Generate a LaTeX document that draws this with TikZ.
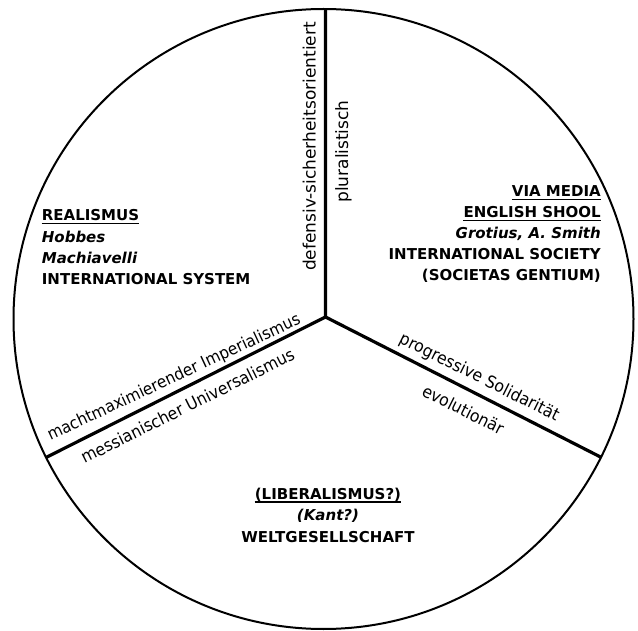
\documentclass[tikz,border=0pt]{standalone}
\usepackage{fontspec}
\setmainfont{DejaVu Sans}[BoldFont={DejaVu Sans Bold}, ItalicFont={DejaVu Sans Oblique}, BoldItalicFont={DejaVu Sans Bold Oblique}]
\newfontfamily\labnarrow{DejaVu Sans}[FakeStretch=0.92]
\begin{document}
\begin{tikzpicture}[x=1pt,y=-1pt,
  hd/.style={font=\fontsize{15}{18}\selectfont\bfseries, inner sep=0pt},
  hdi/.style={font=\fontsize{15}{18}\selectfont\bfseries\itshape, inner sep=0pt},
  rlab/.style={inner sep=0pt, anchor=base},
  vlab/.style={rlab, rotate=90, font=\fontsize{17}{20}\selectfont},
  dlab/.style={rlab, font=\labnarrow\fontsize{17}{20}\selectfont},
  spoke/.style={line width=3.2pt, line join=miter},
  rim/.style={line width=2pt},
  uline/.style={line width=1.4pt}]
\fill[white] (0,0) rectangle (638,631);
\useasboundingbox (0,0) rectangle (638,631);
% disk
\draw[rim] (323.5,319) circle[radius=310pt];
% spokes
\coordinate (ctr) at (325.5,317);
\coordinate (topend) at (325.5,9.5);
\coordinate (rend) at (601.5,457.5);
\coordinate (lend) at (46,457.5);
\draw[spoke] (topend) -- (ctr) -- (rend);
\draw[spoke] (ctr) -- (lend);
% left block
\node[hd, anchor=base west] (real) at (41.7,220.7) {REALISMUS};
\node[hdi, anchor=base west] (hob) at (41.7,242.3) {Hobbes};
\node[hdi, anchor=base west] (mach) at (41.7,263.3) {Machiavelli};
\node[hd, anchor=base west] (isys) at (41.7,284.3) {INTERNATIONAL SYSTEM};
\draw[uline] ([yshift=-3pt]real.base west) -- ([yshift=-3pt]real.base east);
% right block
\node[hd, anchor=base east] (via) at (601,196.7) {VIA MEDIA};
\node[hd, anchor=base east] (eng) at (601,217.3) {ENGLISH SHOOL};
\node[hdi, anchor=base east] (gro) at (601,239) {Grotius, A. Smith};
\node[hd, anchor=base east] (isoc) at (601,260) {INTERNATIONAL SOCIETY};
\node[hd, anchor=base east] (soc) at (601,280.5) {(SOCIETAS GENTIUM)};
\draw[uline] ([yshift=-3pt]via.base west) -- ([yshift=-3pt]via.base east);
\draw[uline] ([yshift=-3pt]eng.base west) -- ([yshift=-3pt]eng.base east);
% bottom block
\node[hd, anchor=base] (lib) at (328,499) {(LIBERALISMUS?)};
\node[hdi, anchor=base] (kant) at (328,520.5) {(Kant?)};
\node[hd, anchor=base] (welt) at (328,542) {WELTGESELLSCHAFT};
\draw[uline] ([yshift=-3pt]lib.base west) -- ([yshift=-3pt]lib.base east);
% spoke labels
\node[vlab] (def) at (315.5,146.5) {defensiv-sicherheitsorientiert};
\node[vlab] (plu) at (348,151.5) {pluralistisch};
\node[dlab, rotate=25, font=\labnarrow\fontsize{16.6}{20}\selectfont] (imp) at (176,382) {machtmaximierender Imperialismus};
\node[dlab, rotate=26.5] (uni) at (190.3,411.3) {messianischer Universalismus};
\node[dlab, rotate=-26.5] (sol) at (477,382) {progressive Solidarität};
\node[dlab, rotate=-26.5] (evo) at (460.5,415.1) {evolutionär};
\end{tikzpicture}
\end{document}
